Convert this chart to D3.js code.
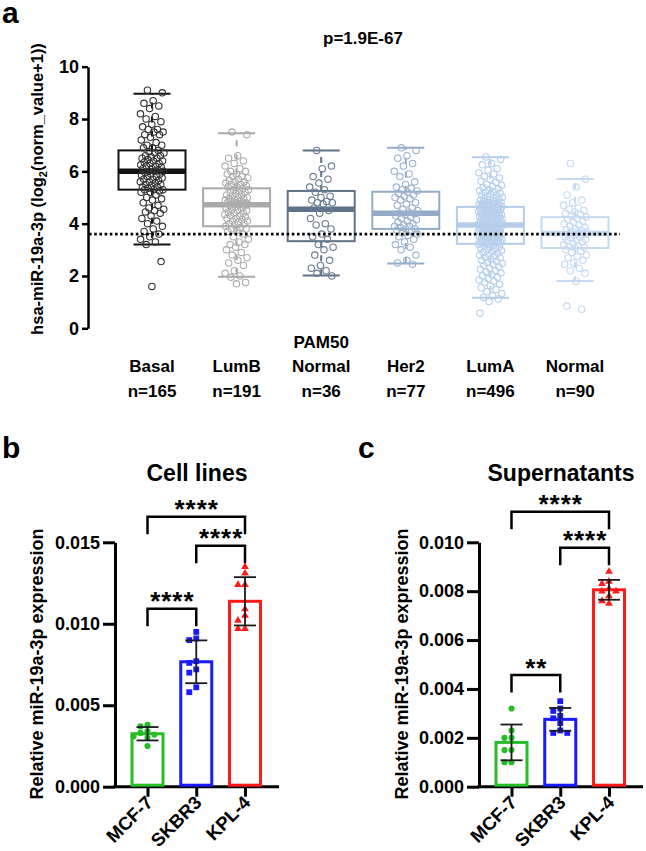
<!DOCTYPE html>
<html>
<head>
<meta charset="utf-8">
<script src="https://cdn.jsdelivr.net/npm/d3@7"></script>
<style>
  body { margin: 0; background: #fff; }
  svg { display: block; }
</style>
</head>
<body>
<div id="chart-area"></div>
<script>
// ---------- panel a : PAM50 subtypes
const subtypeKeys = ['Basal', 'LumB', 'PAM50 Normal', 'Her2', 'LumA', 'Normal'];
const subtypeLabels = [['Basal'], ['LumB'], ['PAM50', 'Normal'], ['Her2'], ['LumA'], ['Normal']];
const subtypeN = [165, 191, 36, 77, 496, 90];
const whiskLo = [3.2, 1.97, 2.02, 2.48, 1.17, 1.81];
const boxQ1 = [5.3, 3.9, 3.33, 3.8, 3.23, 3.07];
const boxMed = [6.0, 4.72, 4.55, 4.4, 3.95, 3.62];
const boxQ3 = [6.8, 5.35, 5.25, 5.22, 4.64, 4.25];
const whiskHi = [8.97, 7.46, 6.8, 6.9, 6.54, 5.71];
const refLine = 3.6;
const pValue = 'p=1.9E-67';
const yTicksA = [0, 2, 4, 6, 8, 10];

const basalVals = [9.1, 9.0, 8.7, 8.6, 8.5, 8.4, 8.2, 8.1, 8.0, 7.9, 7.8, 7.7, 7.6, 7.6, 7.5, 7.5, 7.4, 7.4, 7.3, 7.2, 7.1, 7.0, 7.0, 6.9, 6.9,
  6.8, 6.75, 6.7, 6.7, 6.6, 6.6, 6.55, 6.5, 6.5, 6.45, 6.4, 6.4, 6.35, 6.3, 6.3, 6.25, 6.2, 6.2, 6.15, 6.1, 6.1, 6.05, 6.0, 6.0, 6.0,
  5.95, 5.9, 5.9, 5.85, 5.8, 5.8, 5.75, 5.7, 5.7, 5.65, 5.6, 5.6, 5.55, 5.5, 5.5, 5.45, 5.4, 5.4, 5.35, 5.3, 5.3, 5.3, 5.25, 5.2, 5.2,
  5.1, 5.0, 4.95, 4.9, 4.8, 4.7, 4.6, 4.55, 4.5, 4.45, 4.4, 4.3, 4.2, 4.1, 4.0, 3.9, 3.8, 3.7, 3.6, 3.5, 3.4, 3.3, 3.2, 2.55, 1.6];
const lumBVals = [7.5, 7.4, 6.6, 6.5, 6.4, 6.3, 6.2, 6.1, 6.0, 6.0, 5.9, 5.9, 5.8, 5.8, 5.75, 5.7, 5.65, 5.6, 5.6, 5.55, 5.5, 5.5, 5.45, 5.4, 5.4,
  5.35, 5.3, 5.3, 5.25, 5.2, 5.2, 5.15, 5.1, 5.1, 5.05, 5.0, 5.0, 4.95, 4.95, 4.9, 4.9, 4.85, 4.85, 4.8, 4.8, 4.8, 4.78, 4.75, 4.75, 4.73,
  4.7, 4.68, 4.65, 4.6, 4.6, 4.55, 4.5, 4.5, 4.45, 4.4, 4.4, 4.35, 4.3, 4.3, 4.25, 4.2, 4.2, 4.15, 4.1, 4.1, 4.05, 4.0, 4.0, 3.95, 3.9,
  3.85, 3.8, 3.8, 3.75, 3.7, 3.6, 3.5, 3.4, 3.3, 3.2, 3.2, 3.1, 3.0, 2.9, 2.8, 2.7, 2.6, 2.5, 2.4, 2.2, 2.1, 2.0, 1.95, 1.75, 1.7];
const pam50NormalVals = [6.8, 6.2, 6.1, 5.8, 5.7, 5.55, 5.4, 5.3, 5.2, 5.05, 5.0, 4.9, 4.85, 4.8, 4.8, 4.75, 4.6, 4.5,
  4.4, 4.2, 4.0, 3.95, 3.8, 3.6, 3.5, 3.4, 3.2, 3.1, 3.0, 2.8, 2.6, 2.4, 2.3, 2.2, 2.1, 2.0];
const her2Vals = [6.9, 6.8, 6.6, 6.5, 6.3, 6.2, 6.0, 5.9, 5.8, 5.6, 5.5, 5.4, 5.35, 5.3, 5.25,
  5.2, 5.15, 5.1, 5.05, 5.0, 4.95, 4.9, 4.8, 4.75, 4.7, 4.6, 4.55, 4.5, 4.45, 4.4,
  4.38, 4.35, 4.3, 4.25, 4.2, 4.15, 4.1, 4.05, 4.0, 3.95, 3.9, 3.9, 3.85, 3.8, 3.8,
  3.75, 3.7, 3.65, 3.6, 3.55, 3.5, 3.4, 3.3, 3.2, 3.1, 3.0, 2.8, 2.6, 2.5, 2.45];
const lumAVals = [6.55, 6.45, 6.3, 6.25, 6.1, 6.05, 5.95, 5.9, 5.8, 5.75, 5.7, 5.62, 5.58, 5.5, 5.47, 5.42, 5.38, 5.33, 5.3, 5.26,
  5.22, 5.2, 5.16, 5.12, 5.1, 5.07, 5.04, 5.01, 4.98, 4.96, 4.93, 4.91, 4.89, 4.86, 4.84, 4.82, 4.8, 4.79, 4.77, 4.75,
  4.74, 4.72, 4.71, 4.7, 4.69, 4.68, 4.67, 4.66, 4.65, 4.64,
  4.63, 4.61, 4.6, 4.58, 4.57, 4.55, 4.54, 4.53, 4.51, 4.5, 4.48, 4.47, 4.45, 4.44, 4.43, 4.41, 4.4, 4.38, 4.37, 4.35,
  4.34, 4.33, 4.31, 4.3, 4.28, 4.27, 4.25, 4.24, 4.22, 4.21, 4.2, 4.18, 4.17, 4.15, 4.14, 4.12, 4.11, 4.1, 4.08, 4.07,
  4.05, 4.04, 4.02, 4.01, 4.0, 3.99, 3.98, 3.97, 3.96, 3.95,
  3.94, 3.92, 3.91, 3.9, 3.88, 3.87, 3.85, 3.84, 3.82, 3.81, 3.8, 3.78, 3.77, 3.75, 3.74, 3.72, 3.71, 3.7, 3.68, 3.67,
  3.65, 3.64, 3.62, 3.61, 3.6, 3.58, 3.57, 3.55, 3.54, 3.52, 3.51, 3.5, 3.48, 3.46, 3.45, 3.43, 3.42, 3.4, 3.39, 3.37,
  3.36, 3.34, 3.33, 3.31, 3.3, 3.28, 3.27, 3.26, 3.25, 3.23,
  3.21, 3.18, 3.15, 3.12, 3.1, 3.07, 3.04, 3.0, 2.97, 2.94, 2.9, 2.87, 2.83, 2.8, 2.76, 2.72, 2.69, 2.65, 2.6, 2.56,
  2.52, 2.48, 2.44, 2.4, 2.35, 2.3, 2.26, 2.21, 2.16, 2.11, 2.06, 2.0, 1.95, 1.9, 1.85, 1.8, 1.74, 1.68, 1.62, 1.55,
  1.48, 1.4, 1.33, 1.25, 1.18, 1.12, 1.02, 0.58];
const normalVals = [6.3, 5.7, 5.4, 5.1, 4.9, 4.8, 4.7, 4.6, 4.55, 4.5, 4.45, 4.4, 4.35, 4.3, 4.25,
  4.2, 4.15, 4.1, 4.05, 4.0, 3.95, 3.9, 3.85, 3.8, 3.78, 3.75, 3.7, 3.68, 3.65, 3.6,
  3.58, 3.55, 3.5, 3.48, 3.45, 3.4, 3.38, 3.35, 3.3, 3.25, 3.2, 3.15, 3.12, 3.1, 3.07,
  3.0, 2.95, 2.9, 2.8, 2.75, 2.7, 2.6, 2.5, 2.45, 2.3, 2.2, 2.1, 1.8, 0.85, 0.73];
const subtypeVals = [basalVals, lumBVals, pam50NormalVals, her2Vals, lumAVals, normalVals];

const boxColor = ['#121212', '#a9a9a9', '#5f7288', '#93abc8', '#b3cdea', '#c6daf2'];
const dotColor = ['#333333', '#adadad', '#6a7c92', '#9db3cf', '#b6cfeb', '#c6daf2'];

// ---------- panels b, c : cell lines / supernatants
const cellLines = ['MCF-7', 'SKBR3', 'KPL-4'];
const cellColor = ['#26bd26', '#1a1aff', '#ff1a1a'];
const cellShape = [d3.symbolCircle, d3.symbolSquare, d3.symbolTriangle];

const cellB_MCF7 = [0.0038, 0.0037, 0.0034, 0.0033, 0.0032, 0.0031, 0.0030, 0.0025];
const cellB_SKBR3 = [0.0095, 0.0091, 0.0090, 0.0077, 0.0076, 0.0072, 0.0070, 0.0061, 0.0058];
const cellB_KPL4 = [0.0135, 0.0131, 0.0124, 0.0124, 0.0109, 0.0105, 0.0102, 0.0097, 0.0097];
const supC_MCF7 = [0.0032, 0.0023, 0.0020, 0.0020, 0.0015, 0.0015, 0.0010, 0.0010];
const supC_SKBR3 = [0.0035, 0.0032, 0.0031, 0.0029, 0.0028, 0.0026, 0.0023, 0.0022, 0.0022];
const supC_KPL4 = [0.0088, 0.0084, 0.0083, 0.0081, 0.0080, 0.0080, 0.0078, 0.0076, 0.0075];

const yTicksB = [0, 0.005, 0.010, 0.015];
const yTicksC = [0, 0.002, 0.004, 0.006, 0.008, 0.010];
const comparisons = [['MCF-7', 'SKBR3'], ['SKBR3', 'KPL-4'], ['MCF-7', 'KPL-4']];
const starsB = ['****', '****', '****'];
const starsC = ['**', '****', '****'];

const font = '"Liberation Sans", Arial, Helvetica, sans-serif';

const svg = d3.select('#chart-area')
  .append('svg')
  .attr('width', 646)
  .attr('height', 851)
  .style('font-family', font)
  .style('font-weight', 'bold');

// panel letters
[['a', 2, 23], ['b', 2, 458], ['c', 358, 458]].forEach(([t, x, y]) => {
  svg.append('text').attr('x', x).attr('y', y).attr('font-size', 30).text(t);
});

// ================= panel a =================
const ya = d3.scaleLinear().domain([0, 10]).range([328.3, 66.7]);
const xa = d3.scalePoint().domain(subtypeKeys).range([152, 575]);
const boxW = 67, capW = 37;

const axA = svg.append('g')
  .attr('transform', 'translate(88,0)')
  .call(d3.axisLeft(ya).tickValues(yTicksA).tickSize(6).tickSizeOuter(0).tickPadding(3));
axA.attr('font-family', font).attr('font-size', 18).attr('font-weight', 'bold').attr('color', '#000');
axA.selectAll('path, line').attr('stroke-width', 2.5);

svg.append('text')
  .attr('transform', 'translate(43,189) rotate(-90)')
  .attr('text-anchor', 'middle')
  .attr('font-size', 16.5)
  .call(t => {
    t.append('tspan').text('hsa-miR-19a-3p (log');
    t.append('tspan').attr('font-size', 11).attr('dy', 4).text('2');
    t.append('tspan').attr('dy', -4).text('(norm_value+1))');
  });

svg.append('text')
  .attr('x', 363).attr('y', 44)
  .attr('text-anchor', 'middle')
  .attr('font-size', 17)
  .text(pValue);

const rows = subtypeKeys.map((k, i) => ({
  key: k, i: i, lo: whiskLo[i], q1: boxQ1[i], med: boxMed[i], q3: boxQ3[i], hi: whiskHi[i]
}));

const box = svg.append('g').selectAll('g')
  .data(rows)
  .join('g')
  .attr('stroke', d => boxColor[d.i])
  .attr('fill', 'none');

box.append('line')
  .attr('x1', d => xa(d.key)).attr('x2', d => xa(d.key))
  .attr('y1', d => ya(d.q3)).attr('y2', d => ya(d.hi))
  .attr('stroke-width', 2).attr('stroke-dasharray', '6 8');
box.append('line')
  .attr('x1', d => xa(d.key)).attr('x2', d => xa(d.key))
  .attr('y1', d => ya(d.q1)).attr('y2', d => ya(d.lo))
  .attr('stroke-width', 2).attr('stroke-dasharray', '6 8');
box.selectAll('line.cap')
  .data(d => [d.lo, d.hi].map(v => ({ key: d.key, v: v })))
  .join('line')
  .attr('class', 'cap')
  .attr('x1', d => xa(d.key) - capW / 2).attr('x2', d => xa(d.key) + capW / 2)
  .attr('y1', d => ya(d.v)).attr('y2', d => ya(d.v))
  .attr('stroke-width', 2);
box.append('rect')
  .attr('x', d => xa(d.key) - boxW / 2)
  .attr('y', d => ya(d.q3))
  .attr('width', boxW)
  .attr('height', d => ya(d.q1) - ya(d.q3))
  .attr('stroke-width', 2);
box.append('line')
  .attr('x1', d => xa(d.key) - boxW / 2).attr('x2', d => xa(d.key) + boxW / 2)
  .attr('y1', d => ya(d.med)).attr('y2', d => ya(d.med))
  .attr('stroke-width', 5.5);

// jittered samples (golden-ratio spread, deterministic)
const dots = subtypeVals.flatMap((vals, i) => vals.map((v, j) => ({
  key: subtypeKeys[i], i: i, v: v, dx: (((j * 0.618034 + 0.31) % 1) - 0.5) * 24
})));
svg.append('g').selectAll('circle')
  .data(dots)
  .join('circle')
  .attr('cx', d => xa(d.key) + d.dx)
  .attr('cy', d => ya(d.v))
  .attr('r', 3.2)
  .attr('fill', 'none')
  .attr('stroke', d => dotColor[d.i])
  .attr('stroke-width', 1.1);

svg.append('line')
  .attr('x1', 89).attr('x2', 620)
  .attr('y1', ya(refLine)).attr('y2', ya(refLine))
  .attr('stroke', '#000').attr('stroke-width', 2.6)
  .attr('stroke-dasharray', '2.6 2.6');

const lab = svg.append('g').attr('font-size', 17).attr('text-anchor', 'middle');
rows.forEach(d => {
  const lines = subtypeLabels[d.i];
  lines.forEach((t, k) => {
    lab.append('text').attr('x', xa(d.key)).attr('y', 372 - (lines.length - 1 - k) * 24).text(t);
  });
  lab.append('text').attr('x', xa(d.key)).attr('y', 396.7).text('n=' + subtypeN[d.i]);
});

// ================= panels b, c =================
function barPanel(cfg) {
  const y = d3.scaleLinear().domain([0, cfg.yMax]).range([786.7, 542.3]);
  const x = d3.scalePoint().domain(cellLines).range([cfg.x0 + 32.5, cfg.x0 + 130]);
  const g = svg.append('g');

  const ax = g.append('g')
    .attr('transform', `translate(${cfg.x0},0)`)
    .call(d3.axisLeft(y).tickValues(cfg.ticks).tickFormat(d3.format('.3f')).tickSize(12).tickSizeOuter(0).tickPadding(3));
  ax.attr('font-family', font).attr('font-size', 18).attr('font-weight', 'bold').attr('color', '#000');
  ax.selectAll('path, line').attr('stroke-width', 3);

  g.append('line')
    .attr('x1', cfg.x0 - 1.5).attr('x2', cfg.x0 + 164)
    .attr('y1', y(0)).attr('y2', y(0))
    .attr('stroke', '#000').attr('stroke-width', 3);

  const xAx = g.append('g')
    .attr('transform', `translate(0,${y(0)})`)
    .call(d3.axisBottom(x).tickSize(10).tickSizeOuter(0));
  xAx.select('.domain').remove();
  xAx.attr('color', '#000');
  xAx.selectAll('line').attr('stroke-width', 3);
  xAx.selectAll('text')
    .attr('font-family', font).attr('font-size', 18.5).attr('font-weight', 'bold')
    .attr('text-anchor', 'end')
    .attr('y', 0).attr('dy', 0)
    .attr('transform', 'translate(6,17) rotate(-45)');

  g.append('text')
    .attr('transform', `translate(${cfg.titleX},664) rotate(-90)`)
    .attr('text-anchor', 'middle')
    .attr('font-size', 18)
    .text('Relative miR-19a-3p expression');

  g.append('text')
    .attr('x', cfg.x0 + 82).attr('y', 481)
    .attr('text-anchor', 'middle')
    .attr('font-size', 23)
    .text(cfg.title);

  const stats = cfg.values.map((vals, i) => ({
    name: cellLines[i], i: i, mean: d3.mean(vals), sd: d3.deviation(vals), vals: vals
  }));

  g.append('g').selectAll('rect')
    .data(stats)
    .join('rect')
    .attr('x', d => x(d.name) - 15.5)
    .attr('y', d => y(d.mean))
    .attr('width', 31)
    .attr('height', d => y(0) - y(d.mean) - 1.5)
    .attr('fill', '#fff')
    .attr('stroke', d => cellColor[d.i])
    .attr('stroke-width', 3);

  // points spread sideways only where they would overlap
  const pts = [];
  stats.forEach(s => {
    const placed = [];
    s.vals.slice().sort((a, b) => b - a).forEach(v => {
      const py = y(v);
      const offs = [0, -7, 7, -14, 14];
      let dx = offs.find(o => placed.every(p => Math.abs(p.dx - o) > 6.3 || Math.abs(p.py - py) > 6.3));
      if (dx === undefined) dx = 0;
      placed.push({ dx: dx, py: py });
      pts.push({ i: s.i, name: s.name, v: v, dx: dx });
    });
  });
  g.append('g').selectAll('path')
    .data(pts)
    .join('path')
    .attr('transform', d => `translate(${x(d.name) + d.dx},${y(d.v)})`)
    .attr('d', d => d3.symbol(cellShape[d.i], d.i === 2 ? 26 : d.i === 1 ? 34 : 30)())
    .attr('fill', d => cellColor[d.i]);

  const err = g.append('g').attr('stroke', '#1a1a1a').attr('stroke-width', 1.8);
  stats.forEach(s => {
    const cx = x(s.name);
    err.append('line').attr('x1', cx).attr('x2', cx).attr('y1', y(s.mean - s.sd)).attr('y2', y(s.mean + s.sd));
    [s.mean - s.sd, s.mean + s.sd].forEach(v => {
      err.append('line').attr('x1', cx - 11).attr('x2', cx + 11).attr('y1', y(v)).attr('y2', y(v));
    });
  });

  const br = g.append('g');
  comparisons.forEach((c, k) => {
    const yl = cfg.bracketY[k], x1 = x(c[0]), x2 = x(c[1]);
    br.append('path')
      .attr('d', `M${x1},${yl + 17.5}V${yl}H${x2}V${yl + 17.5}`)
      .attr('fill', 'none').attr('stroke', '#000').attr('stroke-width', 2.5);
    br.append('text')
      .attr('x', (x1 + x2) / 2 + 0.5).attr('y', yl + 1.5)
      .attr('text-anchor', 'middle')
      .attr('font-size', 26)
      .attr('letter-spacing', 1)
      .text(cfg.stars[k]);
  });
}

barPanel({
  x0: 115, yMax: 0.015, ticks: yTicksB, title: 'Cell lines', titleX: 43,
  values: [cellB_MCF7, cellB_SKBR3, cellB_KPL4],
  bracketY: [608.7, 545.7, 516.7], stars: starsB
});
barPanel({
  x0: 479, yMax: 0.010, ticks: yTicksC, title: 'Supernatants', titleX: 408,
  values: [supC_MCF7, supC_SKBR3, supC_KPL4],
  bracketY: [675, 547.7, 511.7], stars: starsC
});
</script>
</body>
</html>
